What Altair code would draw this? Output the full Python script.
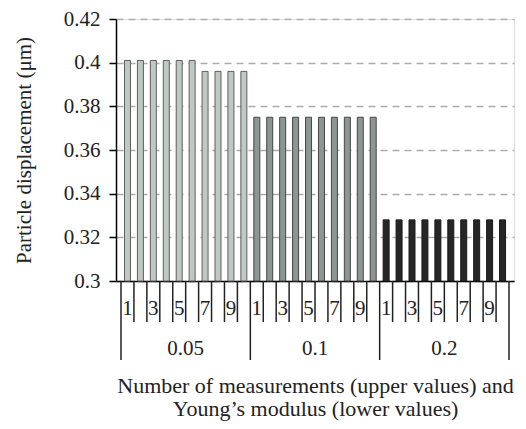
import altair as alt
import pandas as pd

# Young's modulus groups and number of measurements per group
young = ["0.05", "0.1", "0.2"]
measurements = [1, 2, 3, 4, 5, 6, 7, 8, 9, 10]

# Particle displacement (µm) for each measurement count within each group
disp_005 = [0.401, 0.401, 0.401, 0.401, 0.401, 0.401, 0.396, 0.396, 0.396, 0.396]
disp_01 = [0.375, 0.375, 0.375, 0.375, 0.375, 0.375, 0.375, 0.375, 0.375, 0.375]
disp_02 = [0.328, 0.328, 0.328, 0.328, 0.328, 0.328, 0.328, 0.328, 0.328, 0.328]

y_ticks = [0.3, 0.32, 0.34, 0.36, 0.38, 0.4, 0.42]

FONT = "Liberation Serif"
W, H = 398, 262
n_per = len(measurements)
n_slots = n_per * len(young)

rows = []
for g, (ym, vals) in enumerate(zip(young, [disp_005, disp_01, disp_02])):
    for k, (m, v) in enumerate(zip(measurements, vals)):
        rows.append({"young": ym, "n": m, "slot": g * n_per + k + 0.5, "value": v})
bars_df = pd.DataFrame(rows)

labels_df = bars_df[bars_df["n"] % 2 == 1].copy()
labels_df["label"] = labels_df["n"].astype(str)

bounds_df = pd.DataFrame({"b": list(range(n_slots + 1))})
minor_df = bounds_df[bounds_df["b"] % n_per != 0]
major_df = bounds_df[bounds_df["b"] % n_per == 0]

group_df = pd.DataFrame({"young": young,
                         "center": [g * n_per + n_per / 2 for g in range(len(young))]})

xscale = alt.Scale(domain=[0, n_slots], nice=False, zero=False)
yscale = alt.Scale(domain=[0.3, 0.42], nice=False, zero=False)

fills = ["#bfc9c4", "#8b9792", "#262626"]
strokes = ["#5e5e5e", "#454545", "#1a1a1a"]

bars = alt.Chart(bars_df).mark_bar(size=6, strokeWidth=1).encode(
    x=alt.X("slot:Q", scale=xscale, axis=alt.Axis(
        labels=False, ticks=False, grid=False, domain=True,
        domainColor="#000000", domainWidth=1.5,
        title=["Number of measurements (upper values) and",
               "Young\u2019s modulus (lower values)"],
        titleFont=FONT, titleFontSize=22, titleFontWeight="normal",
        titleColor="#222222", titlePadding=94, titleLineHeight=23)),
    y=alt.Y("value:Q", scale=yscale, axis=alt.Axis(
        values=y_ticks, format=".2~f", grid=True, gridDash=[7, 5],
        gridColor="#ababab", gridWidth=1.5, domainColor="#000000",
        domainWidth=1.5, tickColor="#000000", tickSize=7, tickWidth=1.5,
        labelFont=FONT, labelFontSize=21, labelColor="#222222", labelPadding=9,
        title="Particle displacement (\u03bcm)", titleFont=FONT,
        titleFontSize=21, titleFontWeight="normal", titleColor="#222222",
        titlePadding=29)),
    y2=alt.datum(0.3),
    color=alt.Color("young:N", scale=alt.Scale(domain=young, range=fills), legend=None),
    stroke=alt.Stroke("young:N", scale=alt.Scale(domain=young, range=strokes), legend=None),
)

minor_ticks = alt.Chart(minor_df).mark_rule(color="#222222", strokeWidth=1.5).encode(
    x=alt.X("b:Q", scale=xscale), y=alt.value(H), y2=alt.value(H + 41))

major_ticks = alt.Chart(major_df).mark_rule(color="#222222", strokeWidth=1.5).encode(
    x=alt.X("b:Q", scale=xscale), y=alt.value(H), y2=alt.value(H + 79))

n_labels = alt.Chart(labels_df).mark_text(
    font=FONT, fontSize=21, color="#222222", baseline="alphabetic").encode(
    x=alt.X("slot:Q", scale=xscale), y=alt.value(H + 34), text="label:N")

g_labels = alt.Chart(group_df).mark_text(
    font=FONT, fontSize=21, color="#222222", baseline="alphabetic").encode(
    x=alt.X("center:Q", scale=xscale), y=alt.value(H + 74), text="young:N")

chart = alt.layer(bars, minor_ticks, major_ticks, n_labels, g_labels).properties(
    width=W, height=H,
    autosize=alt.AutoSizeParams(type="none"),
    padding={"left": 116, "top": 19, "right": 12, "bottom": 148},
).configure_view(stroke=None).configure(background="#ffffff")

chart.save("out.html", embed_options={"renderer": "svg", "actions": False})
